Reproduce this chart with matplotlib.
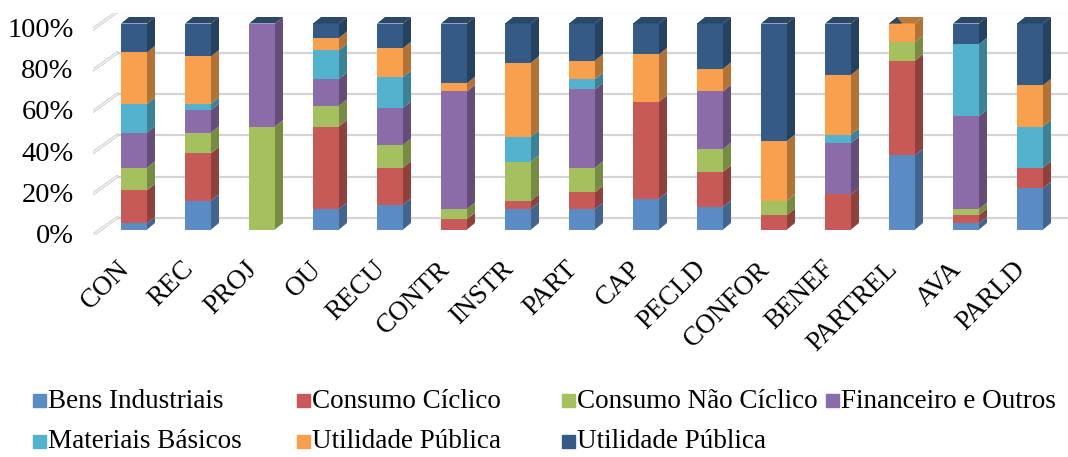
import numpy as np
import matplotlib.pyplot as plt
from matplotlib.patches import Rectangle
from matplotlib.colors import to_rgb
from matplotlib.transforms import ScaledTranslation

categories = ['CON', 'REC', 'PROJ', 'OU', 'RECU', 'CONTR', 'INSTR', 'PART', 'CAP',
              'PECLD', 'CONFOR', 'BENEF', 'PARTREL', 'AVA', 'PARLD']
sectors = ['Bens Industriais', 'Consumo Cíclico', 'Consumo Não Cíclico', 'Financeiro e Outros',
           'Materiais Básicos', 'Utilidade Pública', 'Utilidade Pública']
colors = ['#5B8BC5', '#C75A56', '#A5C15F', '#8B6CA8', '#53B3CE', '#F9A04E', '#345A85']

# percent per sector, one list per sector
bens = [3, 14, 0, 10, 12, 0, 10, 10, 15, 11, 0, 0, 36, 3, 20]
ciclico = [16, 23, 0, 40, 18, 5, 4, 8, 47, 17, 7, 17, 46, 4, 10]
nao_ciclico = [11, 10, 50, 10, 11, 5, 19, 12, 0, 11, 7, 0, 9, 3, 0]
financeiro = [17, 11, 50, 13, 18, 57, 0, 38, 0, 28, 0, 25, 0, 45, 0]
materiais = [14, 3, 0, 14, 15, 0, 12, 5, 0, 0, 0, 4, 0, 35, 20]
utilidade1 = [25, 23, 0, 6, 14, 4, 36, 9, 23, 11, 29, 29, 9, 0, 20]
utilidade2 = [14, 16, 0, 7, 12, 29, 19, 18, 15, 22, 57, 25, 0, 10, 30]
series = [bens, ciclico, nao_ciclico, financeiro, materiais, utilidade1, utilidade2]

W, H = 1068, 457
px_x = 64.0    # pixels per category
px_y = 2.06    # pixels per percent
x0, y0 = 134, 229.5   # pixel of first bar centre / of 0%
left, right, top, bottom = 93, 1068, 13, 235

plt.rcParams['font.family'] = ['Liberation Serif', 'DejaVu Serif']
fig = plt.figure(figsize=[W/100, H/100], dpi=100)
ax = fig.add_axes([left/W, 1-bottom/H, (right-left)/W, (bottom-top)/H])
ax.set_xlim((left-x0)/px_x, (right-x0)/px_x)
ax.set_ylim((y0-bottom)/px_y, (y0-top)/px_y)
for s in ax.spines.values():
    s.set_visible(False)

w = 26/px_x
dx = 8/px_x
dy = 6.5/px_y
wall_x = (117-x0)/px_x
wall_y = 12/px_y
floor_x = ax.get_xlim()[0]
floor_y = ax.get_ylim()[0]

# back wall grid and the little diagonal ticks
for v in range(0, 101, 20):
    ax.plot([wall_x, ax.get_xlim()[1]], [v+wall_y*0.97, v+wall_y*0.97], color='#d4d4d4', lw=1.6, zorder=1)
    ax.plot([floor_x, wall_x], [v+floor_y, v+wall_y*0.97], color='#cfcfcf', lw=2.2, zorder=1)
    ax.plot([floor_x, wall_x], [v+floor_y, v+wall_y*0.97], color='white', lw=0.7, zorder=1)

def darker(c, f):
    return tuple(np.array(to_rgb(c))*f)

xs = np.arange(len(categories))
bottoms = np.zeros(len(categories))
for vals, c in zip(series, colors):
    vals = np.array(vals, dtype=float)
    ax.bar(xs, vals, w, bottom=bottoms, color=c, zorder=3)
    for i in xs:
        if vals[i] == 0:
            continue
        b, t = bottoms[i], bottoms[i]+vals[i]
        r = i+w/2
        ax.fill([r, r+dx, r+dx, r], [b, b+dy, t+dy, t], color=darker(c, 0.72), lw=0, zorder=3)
    bottoms += vals

# top faces are navy, the last series sits there with zero height
navy = darker(colors[-1], 0.8)
for i in xs:
    r = i+w/2
    t = bottoms[i]
    if series[-1][i] == 0 and series[3][i] == 0:
        # orange top with only a corner of navy
        ax.fill([i-w/2, r, r+dx, i-w/2+dx], [t, t, t+dy, t+dy], color=darker(colors[5], 0.75), lw=0, zorder=3)
        ax.fill([i-w/2, i, i-w/2+dx], [t, t, t+dy], color=navy, lw=0, zorder=4)
    else:
        ax.fill([i-w/2, r, r+dx, i-w/2+dx], [t, t, t+dy, t+dy], color=navy, lw=0, zorder=3)

ax.set_xticks(xs)
ax.set_xticklabels(categories, rotation=45, ha='right', rotation_mode='anchor', fontsize=19.5)
ax.tick_params(axis='x', length=0, pad=14)
ax.set_yticks(range(0, 101, 20))
ax.set_yticklabels(['%d%%' % v for v in range(0, 101, 20)], fontsize=20.5)
ax.tick_params(axis='y', length=0, pad=14)

# labels sit off the tick position in the original
off_x = ScaledTranslation(-17/100, -2/100, fig.dpi_scale_trans)
off_y = ScaledTranslation(0, -4/100, fig.dpi_scale_trans)
for lab in ax.get_xticklabels():
    lab.set_transform(lab.get_transform()+off_x)
for lab in ax.get_yticklabels():
    lab.set_transform(lab.get_transform()+off_y)

# legend placed by hand, columns are not even in the original
leg_x = [33, 297, 562, 826]
leg_y = [401, 442]
for i, (name, c) in enumerate(zip(sectors, colors)):
    lx = leg_x[i % 4]
    ly = leg_y[i//4]
    fig.add_artist(Rectangle((lx/W, 1-(ly+6)/H), 13/W, 13/H, color=c, transform=fig.transFigure))
    fig.text((lx+15)/W, 1-ly/H, name, fontsize=19.5, va='center', ha='left')

plt.savefig('out.png', dpi=100)
